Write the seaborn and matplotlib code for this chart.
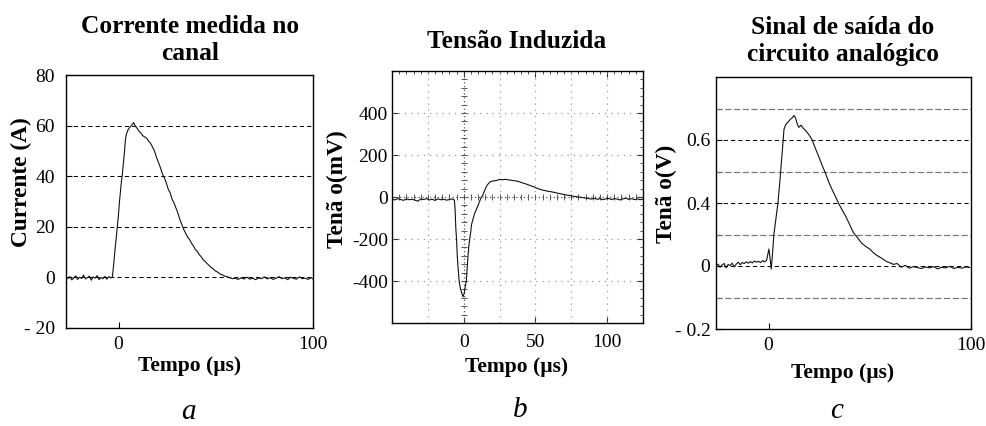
import numpy as np
import pandas as pd
import matplotlib
matplotlib.use("Agg")
import matplotlib.pyplot as plt
from matplotlib.ticker import FixedLocator, MultipleLocator
import seaborn as sns

# ---- (a) current measured in the channel: time (us), current (A)
a_time = [-26, -25, -24, -23, -22, -21, -20, -19, -18, -17, -16, -15, -14, -13, -12,
          -11, -10, -9, -8, -7, -6, -5, -4,
          -3.2, -2.5, -1.8, -1.0, -0.5, 0.0, 0.5, 1.0, 1.5, 2.0, 2.5, 3.0, 3.5, 4.0,
          5.0, 6.0, 7.0, 7.8, 8.5, 9.5, 10.5, 11.5, 12.5, 13.5, 14.5, 15.5, 16.5, 17.5,
          18.5, 19.5, 20.5, 21.5, 22.5, 23.5, 24.5, 25.5, 26.5, 27.5, 28.5, 29.5, 30.5,
          31.5, 32.5, 33.5, 34.5, 35.5, 36.5, 37.5, 38.5, 39.5, 40.5, 41.5, 42.5, 43.5,
          44.5, 45.5, 46.5, 47.5, 48.5, 49.5, 50.5, 51.5, 52.5, 53.5, 54.5, 55.5, 56.5,
          57.5, 58.5, 60, 61.5, 63, 64.5, 66, 67.5, 69, 70.5, 72, 73.5, 75, 76.5, 78,
          79.5, 81, 82.5, 84, 85.5, 87, 88.5, 90, 91.5, 93, 94.5, 96, 97.5, 99, 100]
a_current = [-0.5, 0.3, -1.0, -0.2, 0.6, -0.8, 0.1, -0.4, 0.9, -0.6, -0.1, 0.5, -1.1, 0.2, -0.3,
             0.7, -0.9, 0.0, -0.5, 0.4, -0.7, 0.3, -0.2,
             0.0, 5.0, 11.0, 17.0, 21.0, 25.0, 30.0, 34.0, 38.0, 41.0, 45.0, 49.0, 54.0, 56.5,
             58.5, 59.5, 60.3, 61.2, 60.0, 59.0, 57.8, 57.0, 56.0, 55.5, 55.0, 53.8, 53.0, 51.5,
             50.0, 47.5, 45.5, 43.5, 41.0, 39.5, 37.5, 35.0, 33.5, 31.0, 29.5, 27.5, 25.5,
             23.0, 21.0, 19.0, 17.5, 16.0, 15.0, 13.5, 12.5, 11.0, 10.3, 9.0, 8.2, 7.0,
             6.3, 5.5, 4.8, 4.0, 3.5, 2.7, 2.3, 1.8, 1.2, 1.0, 0.5, 0.4, 0.0,
             -0.2, -0.5, -0.3, -0.8, -0.2, -0.6, 0.1, -0.7, -0.3, -0.9, -0.2, -0.5, 0.2, -0.6, -0.1,
             -0.8, -0.3, 0.3, -0.5, -0.2, -0.9, 0.1, -0.4, -0.7, 0.2, -0.5, -0.3, -0.8, -0.1, -0.6]

# ---- (b) induced voltage: time (us), voltage (mV)
b_time = [-50, -48, -46, -44, -42, -40, -38, -36, -34, -32, -30, -28, -26, -24, -22,
          -20, -18, -16, -14, -12, -10, -8, -7,
          -6.5, -6, -5.5, -5, -4.5, -4, -3.2, -2.5, -1.5, -0.5, 0.3, 1, 1.8, 2.5, 3, 3.5,
          4.2, 5, 5.5, 6.5, 7.5, 8.8, 10, 11, 12.3, 13, 14, 15, 16, 17, 18, 19, 20, 21,
          22.7, 24, 25.5, 27, 28.5, 30, 31.5, 33, 34.5, 36, 37.5, 39, 41, 43, 45, 47, 49,
          51, 53, 55, 57, 59, 61, 63, 65, 67, 69, 71, 73, 75, 77, 79, 81, 83, 85,
          87, 89, 91, 93, 95, 97, 99, 101, 103, 105, 107, 109, 111, 113, 115, 117, 119,
          121, 123, 125]
b_voltage = [-10, -14, -8, -12, -16, -9, -13, -11, -15, -20, -10, -12, -8, -14, -11,
             -16, -9, -13, -10, -15, -12, -9, -13,
             -14, -60, -150, -200, -280, -330, -400, -430, -455, -475, -460, -430, -400, -330,
             -280, -240,
             -200, -160, -130, -105, -80, -60, -40, -22, 0, 5, 20, 38, 52, 62, 70, 74, 76, 77,
             78, 82, 83, 82, 84, 83, 81, 80, 78, 77, 75, 72, 67, 63, 58, 53, 48,
             42, 37, 33, 30, 27, 25, 22, 19, 16, 13, 10, 8, 6, 3, 1, -1, -3, -5,
             -7, -10, -6, -11, -8, -13, -9, -7, -12, -8, -10, -14, -9, -6, -11, -8, -12,
             -9, -13, -10]

# ---- (c) output of the analogue circuit: time (us), voltage (V)
c_time = [-26, -25, -24, -23, -22, -21, -20, -19, -18, -17, -16, -15, -14, -13, -12,
          -11, -10, -9, -8, -7, -6, -5, -4, -3, -2, -1, 0.15, 0.8, 1.3,
          2.0, 2.6, 3.6, 4.6, 5.3, 5.9, 6.7, 7.6, 8.4, 9.3, 10.8, 11.6, 12.5, 13.3, 14.1,
          14.9, 16.0, 17.1, 18.2, 19.8, 21.4, 23.0, 24.6, 26.3, 28.0, 29.6, 31.2, 32.9,
          34.5, 36.3, 38.1, 40.0, 41.9, 43.9, 46.0, 48.0, 50.1, 51.8, 53.4, 55.0, 56.7,
          58.3, 60.0, 61.7, 63.5, 65.5, 67.5, 69.5, 71.5, 73.5, 75.5, 77.5, 79.5, 81.5,
          83.5, 85.5, 87.5, 89.5, 91.5, 93.5, 95.5, 97.5, 99.5]
c_voltage = [0.002, 0.006, -0.004, 0.003, 0.008, -0.006, 0.005, 0.001, 0.009, -0.003, 0.006, 0.012,
             0.004, 0.011, 0.008, 0.013, 0.009, 0.014, 0.010, 0.016, 0.012, 0.015, 0.011,
             0.017, 0.013, 0.018, 0.054, 0.020, -0.010,
             0.045, 0.100, 0.150, 0.200, 0.250, 0.296, 0.360, 0.434, 0.448, 0.455, 0.466, 0.470,
             0.478, 0.470, 0.452, 0.440, 0.447, 0.437, 0.430, 0.418, 0.402, 0.375, 0.350,
             0.322, 0.296, 0.268, 0.245, 0.222, 0.200, 0.178, 0.158, 0.132, 0.106, 0.090,
             0.072, 0.062, 0.053, 0.042, 0.034, 0.028, 0.021, 0.014, 0.010, 0.005, 0.008,
             -0.004, 0.002, -0.007, -0.002, -0.005, -0.008, -0.003, -0.006, -0.002, -0.009,
             -0.004, -0.006, -0.001, -0.008, -0.004, -0.007, -0.003, -0.005]

# tick labels
a_yticks = [-20, 0, 20, 40, 60, 80]
a_yticklabels = ["- 20", "0", "20", "40", "60", "80"]
a_xticks = [0, 100]
b_yticks = [-400, -200, 0, 200, 400]
b_xticks = [0, 50, 100]
c_yticks = [-0.2, 0.0, 0.2, 0.4]
c_yticklabels = ["- 0.2", "0", "0.4", "0.6"]
c_xticks = [0, 100]

titles = ["Corrente medida no\ncanal", "Tensão Induzida", "Sinal de saída do\ncircuito analógico"]
ylabels = ["Currente (A)", "Tenã o(mV)", "Tenã o(V)"]
xlabel = "Tempo (µs)"
letters = ["a", "b", "c"]

sns.set_theme(style="white")
plt.rcParams["font.family"] = ["Liberation Serif", "DejaVu Serif"]
plt.rcParams["axes.unicode_minus"] = False
for key in ("text.color", "axes.labelcolor", "xtick.color", "ytick.color"):
    plt.rcParams[key] = "black"

W, H = 987, 426
fig = plt.figure(figsize=(W / 100, H / 100), dpi=100)
fig.patch.set_facecolor("white")


def frac_axes(left, top, right, bottom):
    return fig.add_axes([left / W, 1 - bottom / H, (right - left) / W, (bottom - top) / H])


axA = frac_axes(66, 75, 313, 328)
axB = frac_axes(392, 71, 643, 323)
axC = frac_axes(716, 77, 971, 329)

TICK_FS = 14
XLAB_FS = 15.5
YLAB_FS = 16.8
TITLE_FS = 18.3

for ax in (axA, axB, axC):
    ax.set_facecolor("white")
    for s in ax.spines.values():
        s.set_visible(True)
        s.set_color("black")
        s.set_linewidth(1.0)
    ax.tick_params(direction="in", length=4, width=0.8, colors="black",
                   labelsize=TICK_FS, bottom=True, left=True)

line_kw = dict(color="#111111", linewidth=0.8, estimator=None, sort=False, legend=False)

# ---------- panel a ----------
for yv in [0, 20, 40, 60]:
    axA.axhline(yv, color="black", lw=0.75, ls=(0, (4, 3)), zorder=1)
sns.lineplot(data=pd.DataFrame({"t": a_time, "i": a_current}), x="t", y="i", ax=axA, **line_kw)
axA.set_xlim(-27, 100)
axA.set_ylim(-20, 80)
axA.yaxis.set_major_locator(FixedLocator(a_yticks))
axA.set_yticklabels(a_yticklabels)
axA.xaxis.set_major_locator(FixedLocator(a_xticks))
axA.set_xticklabels([str(v) for v in a_xticks])
axA.tick_params(axis="y", pad=8)
axA.tick_params(axis="x", pad=6)

# ---------- panel b (oscilloscope style grid) ----------
for xv in np.arange(-25, 125, 25):
    if xv != 0:
        axB.axvline(xv, color="#9a9a9a", lw=0.9, ls=(0, (1, 4)), zorder=1)
for yv in np.arange(-400, 401, 200):
    if yv != 0:
        axB.axhline(yv, color="#9a9a9a", lw=0.9, ls=(0, (1, 4)), zorder=1)
axB.axvline(0, color="#555555", lw=0.9, ls=(0, (1, 2)), zorder=1)
axB.axhline(0, color="#555555", lw=0.9, ls=(0, (1, 2)), zorder=1)
xmin_ticks = np.arange(-50, 126, 5)
ymin_ticks = np.arange(-600, 601, 40)
axB.plot(xmin_ticks, np.zeros_like(xmin_ticks), ls="none", marker="|", ms=5,
         mew=0.7, color="#555555", zorder=1)
axB.plot(np.zeros_like(ymin_ticks), ymin_ticks, ls="none", marker="_", ms=5,
         mew=0.7, color="#555555", zorder=1)
sns.lineplot(data=pd.DataFrame({"t": b_time, "v": b_voltage}), x="t", y="v", ax=axB, **line_kw)
axB.set_xlim(-50, 125)
axB.set_ylim(-600, 600)
axB.xaxis.set_major_locator(FixedLocator(b_xticks))
axB.yaxis.set_major_locator(FixedLocator(b_yticks))
axB.xaxis.set_minor_locator(MultipleLocator(5))
axB.yaxis.set_minor_locator(MultipleLocator(40))
axB.tick_params(which="both", direction="in", top=True, right=True, colors="#333333")
axB.tick_params(which="major", length=4)
axB.tick_params(which="minor", length=2.5, width=0.6)
axB.tick_params(axis="y", pad=3, labelcolor="black")
axB.tick_params(axis="x", pad=8, labelcolor="black")

# ---------- panel c ----------
for yv in [0.0, 0.2, 0.4]:
    axC.axhline(yv, color="black", lw=0.75, ls=(0, (4, 3)), zorder=1)
for yv in [-0.1, 0.1, 0.3, 0.5]:
    axC.axhline(yv, color="#7a7a7a", lw=0.9, ls=(0, (5, 2)), zorder=1)
sns.lineplot(data=pd.DataFrame({"t": c_time, "v": c_voltage}), x="t", y="v", ax=axC, **line_kw)
axC.set_xlim(-26, 100)
axC.set_ylim(-0.2, 0.6)
axC.yaxis.set_major_locator(FixedLocator(c_yticks))
axC.set_yticklabels(c_yticklabels)
axC.yaxis.set_minor_locator(FixedLocator([-0.1, 0.1, 0.3, 0.5]))
axC.tick_params(axis="y", which="minor", direction="in", length=4, width=0.8, left=True)
axC.xaxis.set_major_locator(FixedLocator(c_xticks))
axC.set_xticklabels([str(v) for v in c_xticks])
axC.tick_params(axis="y", pad=4)
axC.tick_params(axis="x", pad=6)

# ---------- labels ----------
for ax in (axA, axB, axC):
    ax.set_xlabel("")
    ax.set_ylabel("")

label_pos = [(21, 182), (337, 189), (666, 194)]
for (xpx, ypx), ylab in zip(label_pos, ylabels):
    fig.text(xpx / W, 1 - ypx / H, ylab, rotation=90, ha="center", va="center",
             fontsize=YLAB_FS, fontweight="bold")

xlabel_pos = [(190, 366), (517, 367), (843, 373)]
for xpx, ypx in xlabel_pos:
    fig.text(xpx / W, 1 - ypx / H, xlabel, ha="center", va="center",
             fontsize=XLAB_FS, fontweight="bold")

title_pos = [(190, 40), (517, 42), (843, 41)]
for (xpx, ypx), title in zip(title_pos, titles):
    fig.text(xpx / W, 1 - ypx / H, title, ha="center", va="center",
             fontsize=TITLE_FS, fontweight="bold", linespacing=1.25)

letter_pos = [(188, 419), (520, 417), (837, 418)]
for (xpx, ypx), letter in zip(letter_pos, letters):
    fig.text(xpx / W, 1 - ypx / H, letter, ha="center", va="baseline",
             fontsize=21, fontstyle="italic")

fig.savefig("out.png", dpi=100, facecolor="white")
